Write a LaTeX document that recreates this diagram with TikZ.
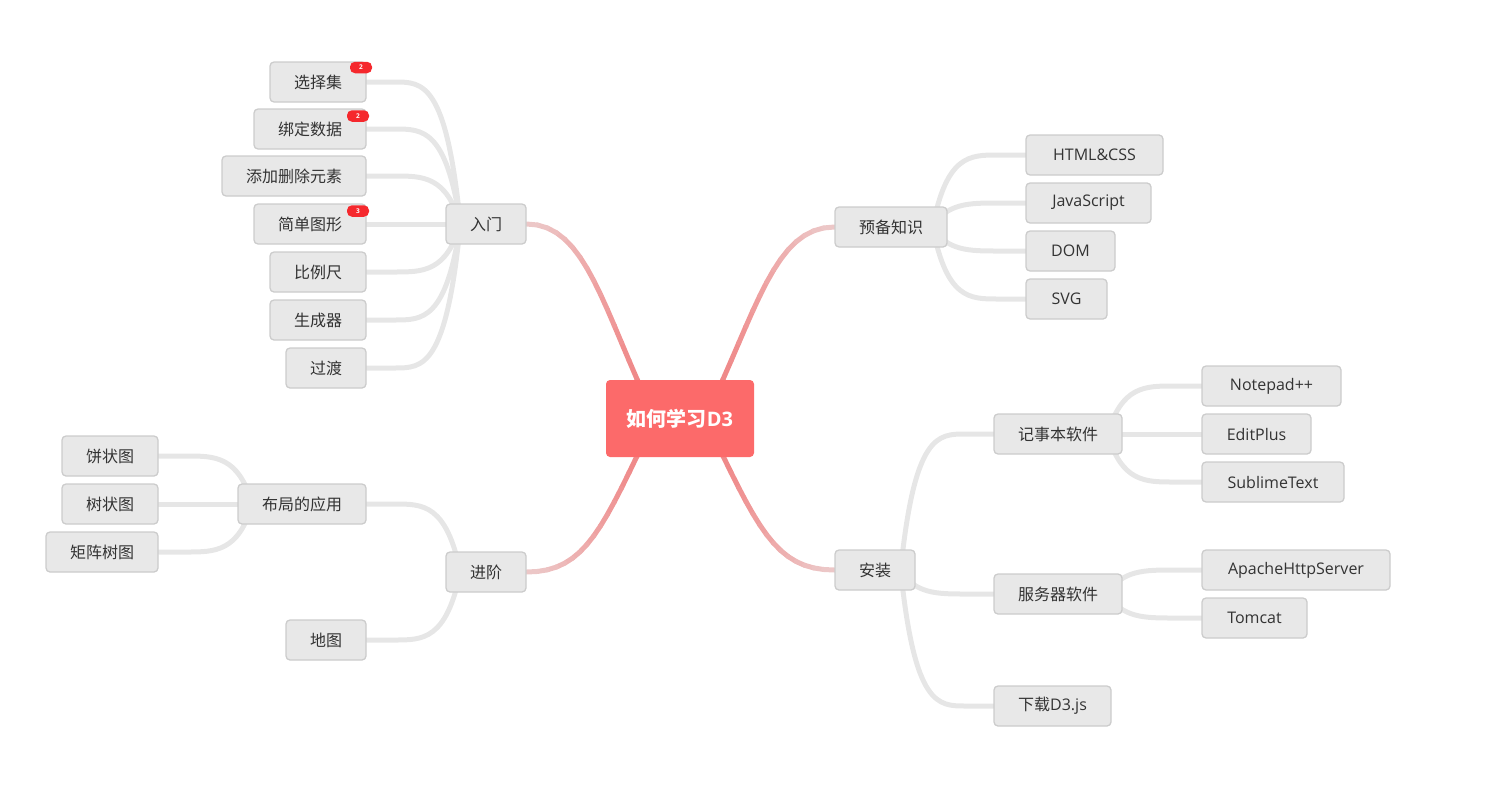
\documentclass[tikz,border=0pt]{standalone}
\usepackage{fontspec}
\setmainfont{Open Sans}
\newfontfamily\cjk{Noto Sans CJK SC}
\usetikzlibrary{calc,backgrounds}

\definecolor{boxfill}{RGB}{232,232,232}
\definecolor{boxline}{RGB}{204,204,204}
\definecolor{txt}{RGB}{51,51,51}
\definecolor{twiggray}{RGB}{230,230,230}
\definecolor{rootred}{RGB}{252,106,106}
\definecolor{pinkdark}{RGB}{240,128,128}
\definecolor{pinklight}{RGB}{236,204,204}
\definecolor{badgered}{RGB}{245,40,45}

\tikzset{
  topic/.style={draw=boxline, line width=1.3pt, fill=boxfill, rounded corners=4pt,
    text=txt, minimum height=40pt, inner sep=0pt, font=\fontsize{16}{18}\selectfont},
  root/.style={fill=rootred, rounded corners=4pt, text=white, minimum width=148pt,
    minimum height=77pt, inner sep=0pt, font=\fontsize{20}{24}\selectfont\bfseries},
  badge/.style={fill=badgered, rounded corners=5pt, minimum width=22pt, minimum height=11.5pt,
    inner sep=0pt, text=white, font=\fontsize{6.5}{7}\selectfont\bfseries},
  twig/.style={draw=twiggray, line width=5pt, line cap=round},
  limbseg/.style={line width=5pt, line cap=round},
}

% main branch: cubic curve split into short pieces shaded from dark (root) to light (child)
\newcommand\limb[4]{%
  \path (#1) .. controls #2 and #3 .. (#4)
    \foreach \k [evaluate=\k as \t using \k/16] in {0,...,16}{ coordinate[pos=\t] (lb\k) };
  \foreach \k [evaluate=\k as \n using int(\k+1), evaluate=\k as \m using int(100-6.25*\k)] in {0,...,15}
    \draw[limbseg, draw=pinkdark!\m!pinklight] (lb\k) -- (lb\n);
}

% sub branch: leaves the parent steeply, ends level with the child
\newcommand\twig[2]{%
  \draw[twig] let \p1=(#1), \p2=(#2) in
    (\p1) .. controls ({\x1+0.15*(\x2-\x1)},\y2) and ({\x1+0.4*(\x2-\x1)},\y2)
    .. ({\x1+0.7*(\x2-\x1)},\y2) -- (\p2);
}

\begin{document}
\begin{tikzpicture}[x=1pt,y=-1pt]
\useasboundingbox (0,0) rectangle (1495,790);

% root
\node[root] (root) at (680,418.5) {{\cjk 如何学习}D3};

% 入门
\node[topic, minimum width=80pt]  (intro) at (486,224) {\cjk 入门};
\node[topic, minimum width=96pt]  (xzj)   at (318,82)  {\cjk 选择集};
\node[topic, minimum width=112pt] (bdsj)  at (310,129) {\cjk 绑定数据};
\node[topic, minimum width=144pt] (tjsc)  at (294,176) {\cjk 添加删除元素};
\node[topic, minimum width=112pt] (jdtx)  at (310,224) {\cjk 简单图形};
\node[topic, minimum width=96pt]  (blc)   at (318,272) {\cjk 比例尺};
\node[topic, minimum width=96pt]  (scq)   at (318,320) {\cjk 生成器};
\node[topic, minimum width=80pt]  (gd)    at (326,368) {\cjk 过渡};
\node[badge] (b1) at (361,67.5) {2};
\node[badge] (b2) at (358,116) {2};
\node[badge] (b3) at (358,211) {3};

% 预备知识
\node[topic, minimum width=112pt] (pre)  at (891,227)    {\cjk 预备知识};
\node[topic, minimum width=137pt] (html) at (1094.5,155) {HTML\&CSS};
\node[topic, minimum width=125pt] (js)   at (1088.5,203) {JavaScript};
\node[topic, minimum width=89pt]  (dom)  at (1070.5,251) {DOM};
\node[topic, minimum width=81pt]  (svg)  at (1066.5,299) {SVG};

% 进阶
\node[topic, minimum width=80pt]  (adv)     at (486,572) {\cjk 进阶};
\node[topic, minimum width=128pt] (layout)  at (302,504) {\cjk 布局的应用};
\node[topic, minimum width=96pt]  (pie)     at (110,456) {\cjk 饼状图};
\node[topic, minimum width=96pt]  (tree)    at (110,504) {\cjk 树状图};
\node[topic, minimum width=112pt] (treemap) at (102,552) {\cjk 矩阵树图};
\node[topic, minimum width=80pt]  (map)     at (326,640) {\cjk 地图};

% 安装
\node[topic, minimum width=80pt]  (inst)     at (875,570)    {\cjk 安装};
\node[topic, minimum width=128pt] (editor)   at (1058,434)   {\cjk 记事本软件};
\node[topic, minimum width=139pt] (npp)      at (1271.5,386) {Notepad++};
\node[topic, minimum width=109pt] (editplus) at (1256.5,434) {EditPlus};
\node[topic, minimum width=142pt] (sublime)  at (1273,482)   {SublimeText};
\node[topic, minimum width=128pt] (server)   at (1058,594)   {\cjk 服务器软件};
\node[topic, minimum width=188pt] (apache)   at (1296,570)   {ApacheHttpServer};
\node[topic, minimum width=105pt] (tomcat)   at (1254.5,618) {Tomcat};
\node[topic, minimum width=117pt] (dl)       at (1052.5,706) {{\cjk 下载}D3.js};

\begin{pgfonlayer}{background}
  % root to first level
  \limb{$(root.center)+(-25,0)$}{+(-52,-108)}{+(60,0)}{intro.east}
  \limb{$(root.center)+(25,0)$}{+(52,-108)}{+(-60,0)}{pre.west}
  \limb{$(root.center)+(-25,0)$}{+(-52,108)}{+(60,0)}{adv.east}
  \limb{$(root.center)+(25,0)$}{+(52,108)}{+(-60,0)}{inst.west}

  % 入门
  \foreach \c in {xzj,bdsj,tjsc,jdtx,blc,scq,gd}
    {\twig{[xshift=15pt]intro.west}{\c.east}}
  % 预备知识
  \foreach \c in {html,js,dom,svg}
    {\twig{[xshift=-15pt]pre.east}{\c.west}}
  % 进阶
  \foreach \c in {layout,map}
    {\twig{[xshift=15pt]adv.west}{\c.east}}
  \foreach \c in {pie,tree,treemap}
    {\twig{[xshift=15pt]layout.west}{\c.east}}
  % 安装
  \foreach \c in {editor,server,dl}
    {\twig{[xshift=-15pt]inst.east}{\c.west}}
  \foreach \c in {npp,editplus,sublime}
    {\twig{[xshift=-15pt]editor.east}{\c.west}}
  \foreach \c in {apache,tomcat}
    {\twig{[xshift=-15pt]server.east}{\c.west}}
\end{pgfonlayer}
\end{tikzpicture}
\end{document}
